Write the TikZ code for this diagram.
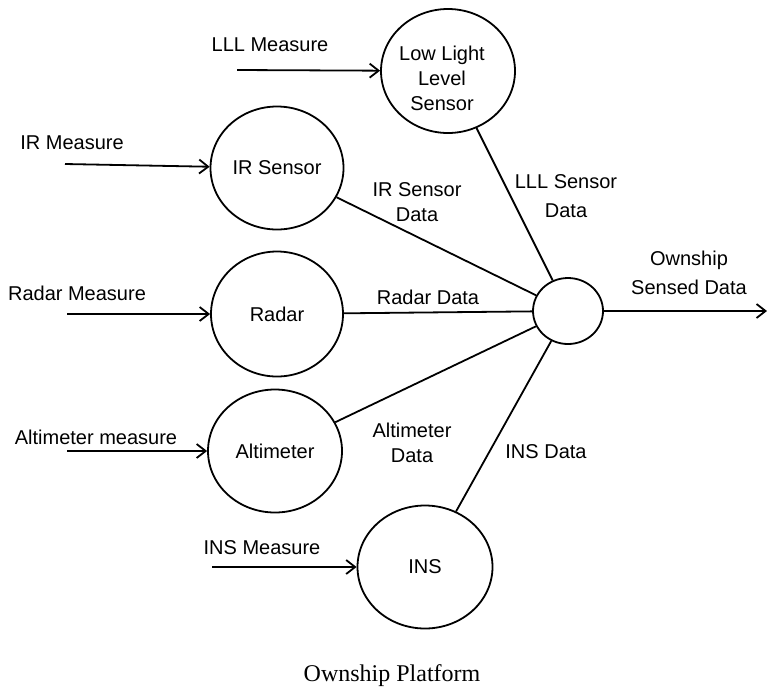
\documentclass[tikz,border=0pt]{standalone}
\usepackage{fontspec}
\setmainfont{Liberation Serif}
\newfontfamily\arialfont{Liberation Sans}
\usetikzlibrary{shapes.geometric,arrows.meta}
\tikzset{
  proc/.style={draw, ellipse, line width=1.8pt, inner sep=0pt, align=center,
    font=\arialfont\fontsize{20}{25}\selectfont},
  lbl/.style={align=center, inner sep=0pt, font=\arialfont\fontsize{20}{25}\selectfont},
  lblwide/.style={align=center, inner sep=0pt, font=\arialfont\fontsize{20}{29}\selectfont},
  flow/.style={line width=1.8pt},
  inflow/.style={line width=1.8pt, -{Straight Barb[length=9pt,width=14pt,line width=1.8pt]}},
}
\begin{document}
\begin{tikzpicture}[x=1pt,y=-1pt]
\useasboundingbox (0,0) rectangle (767,689);

% processes
\node[proc, minimum width=134pt, minimum height=124pt] (lll) at (448,71) {};
\node[lbl] at (442,78) {Low Light\\Level\\Sensor};
\node[proc, minimum width=133pt, minimum height=123pt] (ir) at (277,168) {IR Sensor};
\node[proc, minimum width=132pt, minimum height=125pt] (radar) at (277,314) {Radar};
\node[proc, minimum width=134pt, minimum height=123pt] (alt) at (275,451) {Altimeter};
\node[proc, minimum width=135pt, minimum height=123pt] (ins) at (425,567) {INS};
\node[proc, minimum width=70pt, minimum height=66pt] (hub) at (568,311) {};

% external inputs
\coordinate (lllin) at (237,70);
\coordinate (irin) at (65,164);
\coordinate (radarin) at (67,314);
\coordinate (altin) at (67,451);
\coordinate (insin) at (212,567);
\coordinate (out) at (767,311);

\draw[inflow] (lllin) -- (lll);
\draw[inflow] (irin) -- (ir);
\draw[inflow] (radarin) -- (radar);
\draw[inflow] (altin) -- (alt);
\draw[inflow] (insin) -- (ins);

\node[lbl] (lllm) at (270,45) {LLL Measure};
\node[lbl] (irm) at (72,143) {IR Measure};
\node[lbl] (radarm) at (77,293) {Radar Measure};
\node[lbl] (altm) at (96,437) {Altimeter measure};
\node[lbl] (insm) at (262,548) {INS Measure};

% data flows into the merge point
\draw[flow] (lll) -- (hub);
\draw[flow] (ir) -- (hub);
\draw[flow] (radar) -- (hub);
\draw[flow] (alt) -- (hub);
\draw[flow] (ins) -- (hub);
\draw[inflow] (hub) -- (out);

\node[lblwide] (llld) at (566,196) {LLL Sensor\\Data};
\node[lbl] (ird) at (417,202) {IR Sensor\\Data};
\node[lbl] (radard) at (428,297) {Radar Data};
\node[lbl] (altd) at (412,443) {Altimeter\\Data};
\node[lbl] (insd) at (546,452) {INS Data};
\node[lblwide] (own) at (689,273) {Ownship\\Sensed Data};

\node[inner sep=0pt, font=\fontsize{24}{28}\selectfont] (title) at (392,676) {Ownship Platform};
\end{tikzpicture}
\end{document}
